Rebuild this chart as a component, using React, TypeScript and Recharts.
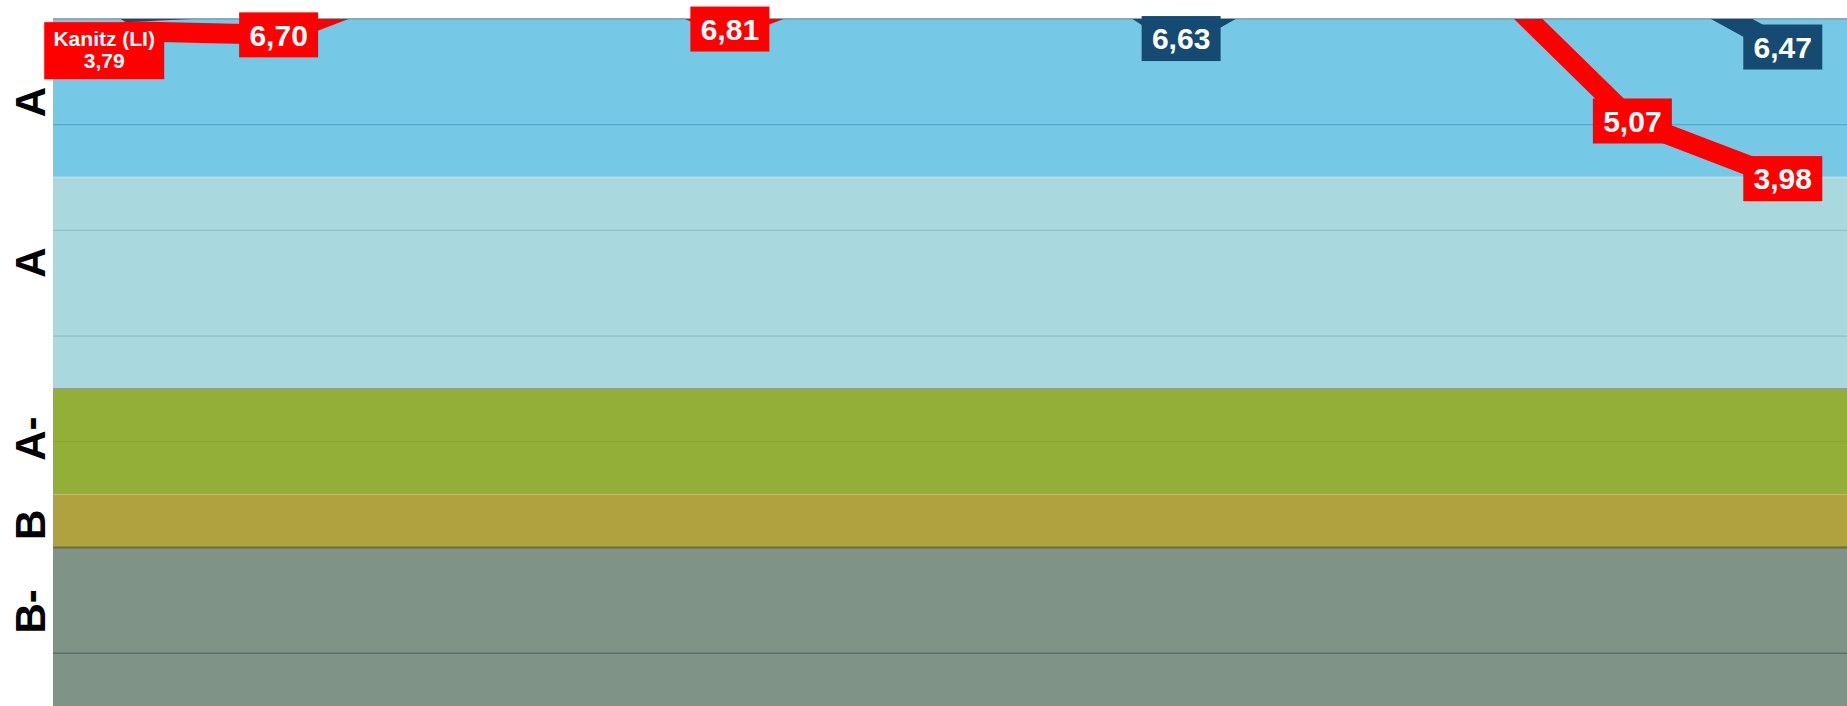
import React from 'react';
import { LineChart, Line, XAxis, YAxis, ReferenceArea, ReferenceLine, ReferenceDot } from 'recharts';

// periods along the (hidden) x axis
const periods = ['T1', 'T2', 'T3', 'T4', 'T5', 'T6', 'T7', 'T8', 'T9', 'T10', 'T11', 'T12'];

// values above 7 run out of the visible window and are clipped
const kanitzLi = [6.77, 6.7, 7.78, 8.15, 6.81, 7.91, 8.2, 8.4, 8.2, 7.86, 5.07, 3.98];
const vergleich = [7.13, 7.27, 7.6, 7.9, 8.1, 8.3, 8.47, 6.63, 8.25, 8.1, 8.03, 6.47];

const kanitzStartLabel = ['Kanitz (LI)', '3,79'];

const gridValues = [7, 5, 3, 1, -1, -3, -5];
const bandEdges = [7, 4, 0, -2, -3, -6];
const bandNames = ['A', 'A', 'A-', 'B', 'B-'];
const bandLabelAt = [5.43, 2.39, -0.94, -2.57, -4.21];

const Y_MIN = -6;
const Y_MAX = 7;

const bandColors = ['#76c9e6', '#a9d8de', '#94af37', '#b0a33f', '#7f9387'];
const gridColors = ['#93a4b3', '#4f9fc4', '#8dbdc4', '#8dbdc4', '#86a133', '#6e6f3a', '#4e615a'];
const RED = '#ff0000';
const NAVY = '#154b73';
const FONT = '"Liberation Sans", Arial, Helvetica, sans-serif';

const data = periods.map((p, i) => ({
  idx: i,
  period: p,
  kanitz: kanitzLi[i],
  vergleich: vergleich[i],
}));

const fmt = (v: number) => v.toFixed(2).replace('.', ',');

const BandTick = (props: any) => {
  const { y, payload } = props;
  const i = bandLabelAt.indexOf(payload.value);
  return (
    <text
      x={31}
      y={y}
      transform={`rotate(-90 31 ${y})`}
      textAnchor="middle"
      dominantBaseline="central"
      fontSize={42}
      fontWeight={700}
      fontFamily={FONT}
      fill="#000"
    >
      {bandNames[i]}
    </text>
  );
};

const valueTag = (fill: string, text: string) => (props: any) => {
  const { cx, cy } = props;
  return (
    <g>
      <rect x={cx - 39.5} y={cy - 22.5} width={79} height={45} fill={fill} />
      <text
        x={cx}
        y={cy}
        dy="0.36em"
        textAnchor="middle"
        fontSize={30}
        fontWeight={700}
        fontFamily={FONT}
        fill="#fff"
      >
        {text}
      </text>
    </g>
  );
};

const startTag = (props: any) => {
  const { cx, cy } = props;
  return (
    <g>
      <rect x={cx - 84} y={cy - 9} width={120} height={57} fill={RED} />
      <text x={cx - 24} y={cy + 15} textAnchor="middle" fontSize={21} fontWeight={700} fontFamily={FONT} fill="#fff">
        {kanitzStartLabel[0]}
      </text>
      <text x={cx - 24} y={cy + 37} textAnchor="middle" fontSize={21} fontWeight={700} fontFamily={FONT} fill="#fff">
        {kanitzStartLabel[1]}
      </text>
    </g>
  );
};

export default function App() {
  return (
    <div
      style={{
        position: 'fixed',
        left: 0,
        top: 0,
        width: 1847,
        height: 706,
        overflow: 'hidden',
        background: '#fff',
      }}
    >
      <LineChart width={1858} height={706} data={data} margin={{ top: 19, right: 0, bottom: 0, left: 0 }}>
        <XAxis type="number" dataKey="idx" domain={[-0.5, 11.5]} allowDataOverflow hide />
        <YAxis
          type="number"
          domain={[Y_MIN, Y_MAX]}
          allowDataOverflow
          width={53}
          ticks={bandLabelAt}
          interval={0}
          axisLine={false}
          tickLine={false}
          tick={BandTick}
        />

        {bandNames.map((name, i) => (
          <ReferenceArea
            key={`band-${i}`}
            y1={bandEdges[i]}
            y2={bandEdges[i + 1]}
            fill={bandColors[i]}
            fillOpacity={1}
            stroke="none"
            zIndex={-300}
          />
        ))}

        {gridValues.map((v, i) => (
          <ReferenceLine
            key={`grid-${v}`}
            y={v}
            stroke={gridColors[i]}
            strokeWidth={i === 0 || v === -3 ? 2 : 1}
            zIndex={-200}
          />
        ))}
        <ReferenceLine y={bandEdges[2]} stroke="#8e9ca2" strokeWidth={2} zIndex={-200} />
        <ReferenceLine y={bandEdges[1]} stroke="#b3dee4" strokeWidth={2} zIndex={-200} />

        <Line
          type="linear"
          dataKey="kanitz"
          stroke={RED}
          strokeWidth={20}
          strokeLinejoin="round"
          strokeLinecap="round"
          dot={false}
          activeDot={false}
          isAnimationActive={false}
        />
        <Line
          type="linear"
          dataKey="vergleich"
          stroke={NAVY}
          strokeWidth={20}
          strokeLinejoin="round"
          strokeLinecap="round"
          dot={false}
          activeDot={false}
          isAnimationActive={false}
        />

        {kanitzLi.map((v, i) =>
          v < Y_MAX ? (
            <ReferenceDot
              key={`k-${i}`}
              x={i}
              y={v}
              r={0}
              ifOverflow="visible"
              zIndex={2000}
              shape={i === 0 ? startTag : valueTag(RED, fmt(v))}
            />
          ) : null
        )}
        {vergleich.map((v, i) =>
          v < Y_MAX ? (
            <ReferenceDot
              key={`v-${i}`}
              x={i}
              y={v}
              r={0}
              ifOverflow="visible"
              zIndex={2000}
              shape={valueTag(NAVY, fmt(v))}
            />
          ) : null
        )}
      </LineChart>
    </div>
  );
}
